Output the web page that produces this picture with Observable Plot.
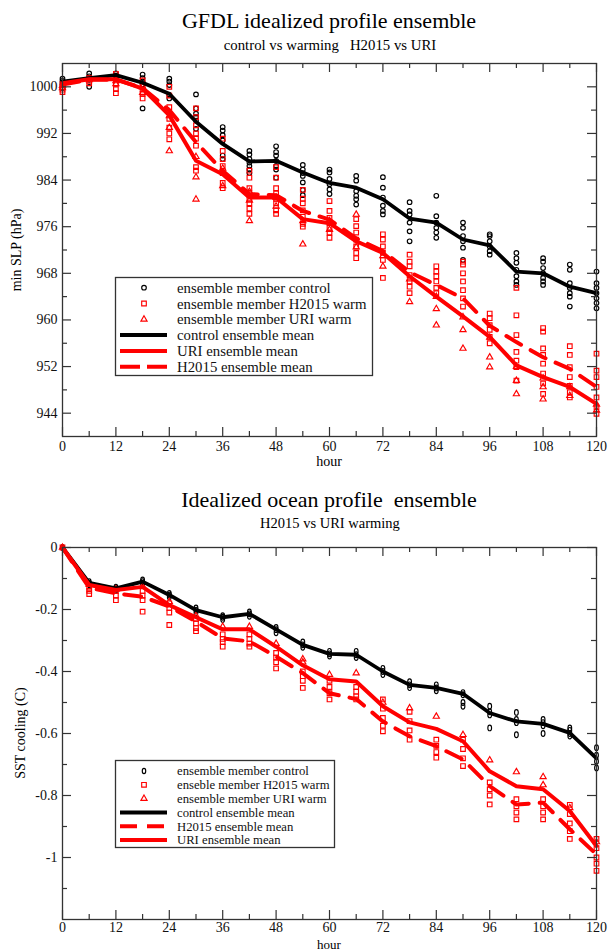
<!DOCTYPE html>
<html><head><meta charset="utf-8">
<script src="https://cdn.jsdelivr.net/npm/d3@7"></script>
<script src="https://cdn.jsdelivr.net/npm/@observablehq/plot@0.6"></script>
<style>
body{margin:0;background:#fff;}
#root{position:relative;width:608px;height:951px;overflow:hidden;font-family:"Liberation Serif","Times New Roman",serif;color:#000;background:#fff;}
.t{position:absolute;transform:translate(-50%,-50%);white-space:pre;line-height:1;}
.r{position:absolute;transform:translate(-50%,-50%) rotate(-90deg);white-space:pre;line-height:1;}
</style></head><body><div id="root"></div>
<script>
// ---------- shared ----------
const hours = [0,6,12,18,24,30,36,42,48,54,60,66,72,78,84,90,96,102,108,114,120];
const xMajor = [0,12,24,36,48,60,72,84,96,108,120];
const xMinor = [6,18,30,42,54,66,78,90,102,114];

// ---------- top panel: min SLP (hPa) ----------
const slpTitle = "GFDL idealized profile ensemble";
const slpSubtitle = "control vs warming   H2015 vs URI";
const slpYLabel = "min SLP (hPa)";
const slpYMajor = [944,952,960,968,976,984,992,1000];
const slpYMinor = [948,956,964,972,980,988,996];
const slpControlMean = [1000.9,1001.5,1002.0,1000.7,998.8,994.0,990.2,987.2,987.3,985.3,983.5,982.7,980.7,977.4,976.7,973.8,972.8,968.3,968.0,965.7,964.6];
const slpUriMean = [1000.6,1001.3,1001.3,999.7,995.1,987.3,985.0,981.0,981.0,977.3,976.6,973.5,971.5,967.5,964.0,960.6,957.1,952.2,950.2,948.5,945.6];
const slpH2015Mean = [1000.4,1001.2,1001.2,999.8,996.0,990.5,985.6,981.6,981.4,978.7,977.2,974.0,971.8,968.2,966.0,963.7,959.0,956.2,953.6,951.6,948.5];
const slpControlMembers = [
  [999.8,1000.3,1000.6,1001.0,1001.4],[1000.0,1001.2,1001.8,1002.3],[1001.5,1001.9,1002.3],
  [996.3,1000.4,1000.9,1001.5,1002.1],[998.0,998.6,1000.3,1000.9,1001.4],[992.8,994.2,994.8,995.4,996.3,998.7],
  [987.6,988.2,990.8,991.7,992.5,993.1],[985.2,985.8,986.4,987.0,987.6,988.4,989.0],[984.4,985.8,986.4,987.3,988.2,988.8,989.8],
  [981.4,982.3,983.6,984.7,985.2,985.8,986.6],[981.6,982.4,983.3,984.2,985.3,985.8],[979.8,980.7,981.3,982.1,983.9,984.7],
  [978.1,978.7,979.6,981.0,982.7,984.5],[973.5,975.2,976.7,978.1,978.7,980.2],[974.1,975.0,975.8,976.7,977.8,981.3],
  [970.3,972.4,973.5,974.4,975.8,976.7],[971.2,971.8,972.6,973.5,974.4,974.7],[966.0,966.6,967.5,968.6,969.8,970.6,971.5],
  [966.0,966.6,967.2,968.0,968.9,970.0,970.6],[962.3,964.0,964.6,965.5,966.3,968.6,969.5],[962.0,962.9,963.7,964.6,965.5,966.3,968.3]
];
const slpH2015Members = [
  [999.1,999.5,1000.0,1000.5],[1000.6,1001.0,1001.5],[998.9,999.6,1000.5,1001.5,1002.2],
  [998.0,998.8,999.5,1000.3,1001.1],[991.0,992.0,993.0,994.5,996.5,998.5,1000.0],[985.6,986.2,989.9,991.1,992.0,993.4,994.8,996.3],
  [982.6,983.5,985.2,986.4,987.6,989.0,991.1],[978.2,979.1,980.0,980.8,981.7,982.6,984.4,985.6],[978.2,978.8,980.0,980.8,981.7,982.6,984.4,986.2],
  [976.0,976.5,977.7,978.8,980.0,980.8,982.3],[974.1,975.0,975.8,976.7,977.5,978.7,980.4],[970.6,971.5,972.6,973.8,975.0,976.1,977.3],
  [967.2,970.3,971.5,972.6,973.8,974.7],[964.6,965.7,966.6,967.7,969.2,970.0,971.2],[964.6,965.5,966.6,967.5,968.3,969.2],
  [962.3,963.7,965.1,966.6,968.0,969.5,970.0],[956.0,957.1,958.3,959.1,960.3,961.1],[949.6,951.9,953.0,954.5,957.4,960.8,965.5],
  [947.3,949.1,950.8,952.5,954.0,955.1,958.0,958.6],[946.7,947.6,948.7,950.2,951.9,954.0,955.5],[943.9,945.0,946.7,948.5,950.2,951.3,954.2]
];
const slpUriMembers = [
  [999.8,1000.2],[1001.2],[1000.5,1001.0],[999.0,1000.0],[989.0,993.0,995.0],[980.7,984.5,988.0],
  [983.0,986.0],[977.0,980.5,982.0],[979.5,981.0],[973.0,977.0],[975.5,977.0],[972.5,978.1],
  [969.2,971.0],[963.1,967.0],[959.1,961.9,964.0],[955.1,958.3,960.5],[951.9,953.6,957.0],[947.3,949.6,952.0],
  [946.4,948.5,950.0],[947.0,948.5],[944.5,945.5]
];
const slpLegend = ["ensemble member control","ensemble member H2015 warm","ensemble member URI warm","control ensemble mean","URI ensemble mean","H2015 ensemble mean"];

// ---------- bottom panel: SST cooling (C) ----------
const sstTitle = "Idealized ocean profile  ensemble";
const sstSubtitle = "H2015 vs URI warming";
const sstYLabel = "SST cooling (C)";
const sstYMajor = [0,-0.2,-0.4,-0.6,-0.8,-1];
const sstYMinor = [-0.1,-0.3,-0.5,-0.7,-0.9,-1.1];
const sstControlMean = [0,-0.114,-0.132,-0.11,-0.153,-0.202,-0.225,-0.214,-0.264,-0.314,-0.343,-0.346,-0.4,-0.443,-0.453,-0.472,-0.534,-0.561,-0.569,-0.598,-0.68];
const sstUriMean = [0,-0.121,-0.137,-0.127,-0.186,-0.225,-0.264,-0.264,-0.32,-0.38,-0.425,-0.432,-0.512,-0.564,-0.585,-0.625,-0.722,-0.77,-0.78,-0.85,-0.963];
const sstH2015Mean = [0,-0.13,-0.148,-0.159,-0.19,-0.239,-0.293,-0.303,-0.352,-0.405,-0.47,-0.489,-0.561,-0.609,-0.641,-0.684,-0.77,-0.829,-0.823,-0.909,-0.99];
const sstControlMembers = [
  [0],[-0.11,-0.115,-0.12],[-0.128,-0.133,-0.138],[-0.105,-0.11,-0.118],[-0.148,-0.153,-0.16],[-0.195,-0.202,-0.21],
  [-0.22,-0.225,-0.232],[-0.208,-0.214,-0.222],[-0.258,-0.265,-0.275],[-0.305,-0.314,-0.322],[-0.335,-0.343,-0.35],
  [-0.335,-0.346,-0.355],[-0.39,-0.4,-0.41],[-0.433,-0.443,-0.452],[-0.443,-0.453,-0.462],[-0.468,-0.475,-0.5,-0.512],
  [-0.512,-0.53,-0.54,-0.582],[-0.532,-0.555,-0.565,-0.604],[-0.555,-0.565,-0.575,-0.6],[-0.582,-0.59,-0.6,-0.608],
  [-0.646,-0.67,-0.69,-0.711]
];
const sstH2015Members = [
  [0],[-0.13,-0.14,-0.15],[-0.14,-0.155,-0.17],[-0.14,-0.155,-0.17,-0.207],[-0.18,-0.195,-0.21,-0.25],[-0.23,-0.245,-0.26,-0.27],
  [-0.28,-0.295,-0.305,-0.32],[-0.28,-0.295,-0.31,-0.32],[-0.34,-0.355,-0.37,-0.39],[-0.4,-0.415,-0.43,-0.453],
  [-0.43,-0.45,-0.47,-0.49],[-0.45,-0.465,-0.48,-0.49],[-0.49,-0.52,-0.55,-0.575,-0.593],[-0.53,-0.56,-0.59,-0.62],
  [-0.62,-0.64,-0.66,-0.678],[-0.62,-0.65,-0.68,-0.705],[-0.758,-0.78,-0.8,-0.829],[-0.812,-0.835,-0.855,-0.877],
  [-0.812,-0.835,-0.855,-0.877],[-0.83,-0.86,-0.89,-0.915,-0.94],[-0.94,-0.97,-1.0,-1.02,-1.043]
];
const sstUriMembers = [
  [0],[-0.12],[-0.135],[-0.125],[-0.175],[-0.22],[-0.255],[-0.255],[-0.31],[-0.36,-0.37],[-0.41],[-0.405],
  [-0.5],[-0.518],[-0.545],[-0.604],[-0.686],[-0.724],[-0.74,-0.766],[-0.84],[-0.95]
];
const sstLegend = ["ensemble member control","enseble member H2015 warm","ensemble member URI warm","control ensemble mean","H2015 ensemble mean","URI ensemble mean"];

// ---------- helpers ----------
const root = document.getElementById("root");
const SERIF = '"Liberation Serif","Times New Roman",serif';
function label(str, x, y, size, cls="t") {
  const d = document.createElement("div");
  d.className = cls; d.textContent = str;
  d.style.left = x + "px"; d.style.top = y + "px"; d.style.fontSize = size + "px";
  root.appendChild(d);
}
const flat = (arrs) => arrs.flatMap((vals, i) => vals.map(v => ({hour: hours[i], value: v})));
const series = (vals) => vals.map((v, i) => ({hour: hours[i], value: v}));
// tall ellipse symbol for SST control members
const ellipse = {draw(ctx, size) {
  const r = Math.sqrt(size / Math.PI), rx = r * 0.72, ry = r * 1.1, k = 0.5523;
  ctx.moveTo(0, -ry);
  ctx.bezierCurveTo(k*rx, -ry, rx, -k*ry, rx, 0);
  ctx.bezierCurveTo(rx, k*ry, k*rx, ry, 0, ry);
  ctx.bezierCurveTo(-k*rx, ry, -rx, k*ry, -rx, 0);
  ctx.bezierCurveTo(-rx, -k*ry, -k*rx, -ry, 0, -ry);
  ctx.closePath();
}};

const W = 608, ML = 62, MR = 12, FW = W - ML - MR;
const RED = "#ff0000";

function panel(o) {
  const fh = o.height - o.mt - o.mb;
  const tk = {stroke: "#333", strokeWidth: 1.2};
  const marks = [
    Plot.dot(flat(o.ctrlM), {x: "hour", y: "value", symbol: o.ctrlSym, r: o.ctrlR, stroke: "black", strokeWidth: 1.15, fill: "none"}),
    Plot.dot(flat(o.h15M), {x: "hour", y: "value", symbol: "square", r: 2.6, stroke: RED, strokeWidth: 1.15, fill: "none"}),
    Plot.dot(flat(o.uriM), {x: "hour", y: "value", symbol: "triangle", r: 2.3, stroke: RED, strokeWidth: 1.15, fill: "none"}),
    Plot.line(series(o.ctrlMean), {x: "hour", y: "value", stroke: "black", strokeWidth: 3.8}),
    Plot.line(series(o.h15Mean), {x: "hour", y: "value", stroke: RED, strokeWidth: 4, strokeDasharray: "17,11"}),
    Plot.line(series(o.uriMean), {x: "hour", y: "value", stroke: RED, strokeWidth: 4}),
    // inward ticks on all four sides
    Plot.tickX(xMajor, {x: d => d, insetTop: fh - 9, ...tk}),
    Plot.tickX(xMinor, {x: d => d, insetTop: fh - 5, ...tk}),
    Plot.tickX(xMajor, {x: d => d, insetBottom: fh - 9, ...tk}),
    Plot.tickX(xMinor, {x: d => d, insetBottom: fh - 5, ...tk}),
    Plot.tickY(o.yMajor, {y: d => d, insetRight: FW - 9, ...tk}),
    Plot.tickY(o.yMinor, {y: d => d, insetRight: FW - 5, ...tk}),
    Plot.tickY(o.yMajor, {y: d => d, insetLeft: FW - 9, ...tk}),
    Plot.tickY(o.yMinor, {y: d => d, insetLeft: FW - 5, ...tk}),
    Plot.axisX(xMajor, {tickSize: 0, tickPadding: o.xPad, fontSize: 14, label: null, fill: "#111"}),
    Plot.axisY(o.yMajor, {tickSize: 0, tickPadding: 5, fontSize: 14, label: null, fill: "#111", tickFormat: d => String(d)}),
    Plot.frame({stroke: "#333", strokeWidth: 1.3})
  ];
  const svg = Plot.plot({
    width: W, height: o.height, marginLeft: ML, marginRight: MR, marginTop: o.mt, marginBottom: o.mb,
    x: {domain: [0, 120]}, y: {domain: o.yDomain},
    style: {fontFamily: SERIF, fontSize: "14px", background: "transparent", overflow: "visible"},
    marks
  });
  svg.style.position = "absolute"; svg.style.left = "0px"; svg.style.top = o.top + "px";
  root.appendChild(svg);
}

function legend(o) {
  const svg = d3.create("svg").attr("width", o.w).attr("height", o.h)
    .style("position", "absolute").style("left", o.x + "px").style("top", o.y + "px").style("overflow", "visible");
  svg.append("rect").attr("x", 0.5).attr("y", 0.5).attr("width", o.w - 1).attr("height", o.h - 1)
    .attr("fill", "white").attr("stroke", "#333").attr("stroke-width", 1.3);
  o.rows.forEach((row, i) => {
    const y = o.y0 + i * o.dy;
    if (row.kind === "sym") {
      svg.append("path").attr("transform", `translate(29,${y})`)
        .attr("d", d3.symbol().type(row.sym).size(row.size)())
        .attr("fill", "none").attr("stroke", row.color).attr("stroke-width", 1.15);
    } else {
      svg.append("line").attr("x1", 5).attr("x2", 52).attr("y1", y).attr("y2", y)
        .attr("stroke", row.color).attr("stroke-width", 4)
        .attr("stroke-dasharray", row.dash || null);
    }
    svg.append("text").attr("x", 62).attr("y", y).attr("dy", "0.35em")
      .attr("font-family", SERIF).attr("font-size", o.fs).attr("fill", "#111").text(row.label);
  });
  root.appendChild(svg.node());
}

// ---------- top panel ----------
label(slpTitle, 329, 21, 22);
label(slpSubtitle, 330, 45, 14.8);
panel({top: 55, height: 405, mt: 8, mb: 24, xPad: 5, yDomain: [940, 1004], yMajor: slpYMajor, yMinor: slpYMinor,
  ctrlM: slpControlMembers, h15M: slpH2015Members, uriM: slpUriMembers,
  ctrlMean: slpControlMean, h15Mean: slpH2015Mean, uriMean: slpUriMean, ctrlSym: "circle", ctrlR: 2.3});
label(slpYLabel, 17, 250, 14, "r");
label("hour", 329, 462, 14);
legend({x: 115, y: 277, w: 258, h: 99, y0: 10.7, dy: 15.8, fs: 14.8, rows: [
  {kind: "sym", sym: d3.symbolCircle, size: Math.PI * 2.3 * 2.3, color: "black", label: slpLegend[0]},
  {kind: "sym", sym: d3.symbolSquare, size: Math.PI * 2.6 * 2.6, color: RED, label: slpLegend[1]},
  {kind: "sym", sym: d3.symbolTriangle, size: Math.PI * 2.3 * 2.3, color: RED, label: slpLegend[2]},
  {kind: "line", color: "black", label: slpLegend[3]},
  {kind: "line", color: RED, label: slpLegend[4]},
  {kind: "line", color: RED, dash: "20,7", label: slpLegend[5]}
]});

// ---------- bottom panel ----------
label(sstTitle, 329, 500, 22);
label(sstSubtitle, 330, 523, 14.5);
panel({top: 540, height: 404, mt: 7, mb: 25, xPad: 3, yDomain: [-1.2, 0], yMajor: sstYMajor, yMinor: sstYMinor,
  ctrlM: sstControlMembers, h15M: sstH2015Members, uriM: sstUriMembers,
  ctrlMean: sstControlMean, h15Mean: sstH2015Mean, uriMean: sstUriMean, ctrlSym: ellipse, ctrlR: 2.6});
label(sstYLabel, 21, 733, 14, "r");
label("hour", 329, 944, 13);
legend({x: 115, y: 760, w: 220, h: 88, y0: 11, dy: 13.8, fs: 12.7, rows: [
  {kind: "sym", sym: ellipse, size: Math.PI * 2.4 * 2.4, color: "black", label: sstLegend[0]},
  {kind: "sym", sym: d3.symbolSquare, size: Math.PI * 2.6 * 2.6, color: RED, label: sstLegend[1]},
  {kind: "sym", sym: d3.symbolTriangle, size: Math.PI * 2.3 * 2.3, color: RED, label: sstLegend[2]},
  {kind: "line", color: "black", label: sstLegend[3]},
  {kind: "line", color: RED, dash: "17,10", label: sstLegend[4]},
  {kind: "line", color: RED, label: sstLegend[5]}
]});
</script></body></html>
